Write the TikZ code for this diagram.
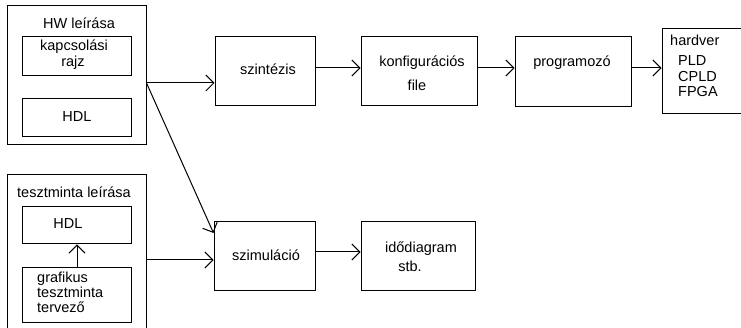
\documentclass[tikz,border=0pt]{standalone}
\usepackage{fontspec}
\setmainfont{Liberation Sans}
\usetikzlibrary{arrows.meta}
\begin{document}
\begin{tikzpicture}[x=1pt,y=-1pt,
  box/.style={draw,line width=1pt},
  lbl/.style={inner sep=0pt,font=\fontsize{14.5}{17}\selectfont,text height=1.55ex,text depth=.3ex},
  conn/.style={line width=1pt,-{Straight Barb[length=8pt,width=16pt,line width=1pt]}}]
\useasboundingbox (0,0) rectangle (741,328);
\clip (0,0) rectangle (741,328);
\fill[white] (0,0) rectangle (741,328);
% boxes
\node[box,fit/.style={},inner sep=0pt,minimum width=139pt,minimum height=139pt] (hw) at (76.5,75.5) {};
\node[box,inner sep=0pt,minimum width=109pt,minimum height=39pt] (kapcs) at (76.5,56.5) {};
\node[box,inner sep=0pt,minimum width=109pt,minimum height=38pt] (hdla) at (76.5,118) {};
\node[box,inner sep=0pt,minimum width=100pt,minimum height=69pt] (szint) at (265,71.5) {};
\node[box,inner sep=0pt,minimum width=116pt,minimum height=69pt] (konf) at (419,71.5) {};
\node[box,inner sep=0pt,minimum width=116pt,minimum height=70pt] (prog) at (573,72) {};
\node[box,inner sep=0pt,minimum width=90pt,minimum height=85pt] (hard) at (707,71.5) {};
\node[box,inner sep=0pt,minimum width=139pt,minimum height=165pt] (test) at (76.5,257.5) {};
\node[box,inner sep=0pt,minimum width=109pt,minimum height=37pt] (hdlb) at (76.5,225.5) {};
\node[box,inner sep=0pt,minimum width=109pt,minimum height=55pt] (graf) at (76.5,295.5) {};
\node[box,inner sep=0pt,minimum width=101pt,minimum height=69pt] (szim) at (264.5,256.5) {};
\node[box,inner sep=0pt,minimum width=114pt,minimum height=69pt] (ido) at (418,256.5) {};
% texts
\node[lbl] (t1) at (79,25) {HW leírása};
\node[lbl] (t2) at (74,47) {kapcsolási};
\node[lbl] (t3) at (73,63) {rajz};
\node[lbl] (t4) at (77,118) {HDL};
\node[lbl] (t5) at (74,194) {tesztminta leírása};
\node[lbl] (t6) at (68,225) {HDL};
\node[lbl,anchor=west] (t7) at (37,279) {grafikus};
\node[lbl,anchor=west] (t8) at (37,294) {tesztminta};
\node[lbl,anchor=west] (t9) at (37,309) {tervező};
\node[lbl] (t10) at (268,71) {szintézis};
\node[lbl] (t11) at (422,63) {konfigurációs};
\node[lbl] (t12) at (417,87) {file};
\node[lbl] (t13) at (572,63) {programozó};
\node[lbl,anchor=west] (t14) at (670,42) {hardver};
\node[lbl,anchor=west] (t15) at (678,62) {PLD};
\node[lbl,anchor=west] (t16) at (678,78) {CPLD};
\node[lbl,anchor=west] (t17) at (678,93) {FPGA};
\node[lbl] (t18) at (266,257) {szimuláció};
\node[lbl] (t19) at (421,249) {idődiagram};
\node[lbl] (t20) at (410,268) {stb.};
% connectors
\coordinate (hwo) at (hw.east |- 0,83);
\draw[conn] (hwo) -- (szint.west |- hwo);
\draw[conn] (hwo) -- (szim.west |- 0,233);
\draw[conn] (szint.east |- 0,68) -- (konf.west |- 0,68);
\draw[conn] (konf.east |- 0,68) -- (prog.west |- 0,68);
\draw[conn] (prog.east |- 0,68) -- (hard.west |- 0,68);
\draw[conn] (graf.north -| 77,0) -- (hdlb.south -| 77,0);
\draw[conn] (test.east |- 0,260) -- (szim.west |- 0,260);
\draw[conn] (szim.east |- 0,252) -- (ido.west |- 0,252);
\end{tikzpicture}
\end{document}
